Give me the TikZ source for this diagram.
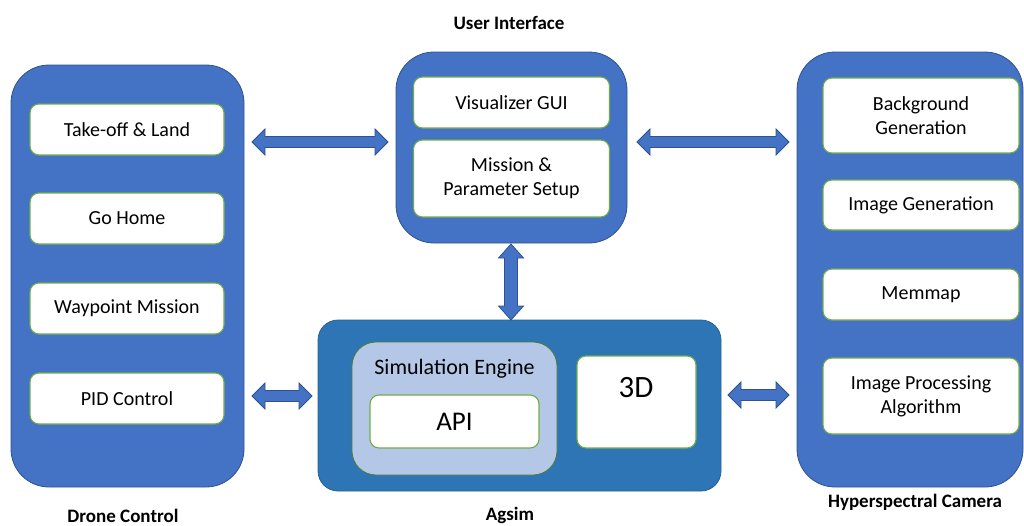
\documentclass[tikz,border=0pt]{standalone}
\usepackage{fontspec}
\setmainfont{Carlito}
\usetikzlibrary{calc}
\definecolor{pblue}{HTML}{4472C4}
\definecolor{pedge}{HTML}{2F528F}
\definecolor{ablue}{HTML}{2E75B6}
\definecolor{aedge}{HTML}{2A5F94}
\definecolor{gedge}{HTML}{70AD47}
\definecolor{lblue}{HTML}{B4C7E7}
\tikzset{
  panel/.style={draw=pedge, fill=pblue, line width=0.8pt, rounded corners=38pt, inner sep=0pt},
  agpanel/.style={draw=aedge, fill=ablue, line width=0.8pt, rounded corners=20pt, inner sep=0pt},
  item/.style={draw=gedge, fill=white, line width=1.1pt, rounded corners=9pt, align=center,
    font=\fontsize{20}{24}\selectfont, inner sep=0pt},
  engine/.style={draw=gedge!70!black, fill=lblue, line width=0.8pt, rounded corners=24pt, inner sep=0pt},
  title/.style={font=\fontsize{19}{23}\selectfont\bfseries, inner sep=0pt},
  blockarrow/.style={draw=pedge, fill=pblue, line width=0.8pt},
}
\newcommand{\harr}[2]{\filldraw[blockarrow] let \p1=(#1), \p2=(#2) in
  (\x1,\y1) -- (\x1+13pt,\y1+13pt) -- (\x1+13pt,\y1+5.5pt) -- (\x2-13pt,\y1+5.5pt)
  -- (\x2-13pt,\y1+13pt) -- (\x2,\y1) -- (\x2-13pt,\y1-13pt) -- (\x2-13pt,\y1-5.5pt)
  -- (\x1+13pt,\y1-5.5pt) -- (\x1+13pt,\y1-13pt) -- cycle;}
\newcommand{\varr}[2]{\filldraw[blockarrow] let \p1=(#1), \p2=(#2) in
  (\x1,\y1) -- (\x1+12.5pt,\y1-14pt) -- (\x1+6.5pt,\y1-14pt) -- (\x1+6.5pt,\y2+14pt)
  -- (\x1+12.5pt,\y2+14pt) -- (\x1,\y2) -- (\x1-12.5pt,\y2+14pt) -- (\x1-6.5pt,\y2+14pt)
  -- (\x1-6.5pt,\y1-14pt) -- (\x1-12.5pt,\y1-14pt) -- cycle;}
\begin{document}
\begin{tikzpicture}[x=1pt,y=-1pt]
\useasboundingbox (0,0) rectangle (1024,525);
% panels
\node[panel, minimum width=233, minimum height=422] (dc) at (127.5,276) {};
\node[panel, minimum width=231, minimum height=191] (ui) at (511.5,147.5) {};
\node[panel, minimum width=226, minimum height=435] (hc) at (910,269.5) {};
\node[agpanel, minimum width=403, minimum height=171] (ag) at (519.5,405.5) {};
% titles
\node[title] (tdc) at (123,515.5) {Drone Control};
\node[title] (tui) at (509,23) {User Interface};
\node[title] (tag) at (510,515.5) {Agsim};
\node[title] (thc) at (915,502) {Hyperspectral Camera};
% drone control items
\node[item, minimum width=194, minimum height=51] (tk) at (127,129.5) {Take-off \& Land};
\node[item, minimum width=194, minimum height=51] (gh) at (127,218.5) {Go Home};
\node[item, minimum width=194, minimum height=51] (wp) at (127,308.5) {Waypoint Mission};
\node[item, minimum width=194, minimum height=51] (pid) at (127,398.5) {PID Control};
% user interface items
\node[item, minimum width=196, minimum height=51] (vg) at (511.5,102.5) {Visualizer GUI};
\node[item, minimum width=196, minimum height=77] (ms) at (511.5,178.5) {Mission \&\\Parameter Setup};
% hyperspectral items
\node[item, minimum width=196, minimum height=75] (bg) at (921,115.5) {Background\\Generation};
\node[item, minimum width=196, minimum height=50] (ig) at (921,205) {Image Generation};
\node[item, minimum width=196, minimum height=51] (mm) at (921,294.5) {Memmap};
\node[item, minimum width=196, minimum height=76] (ip) at (921,396) {Image Processing\\Algorithm};
% agsim content
\node[engine, minimum width=205, minimum height=133] (se) at (454.5,408.5) {};
\node[font=\fontsize{22}{26}\selectfont, inner sep=0pt] (sel) at (454.5,369) {Simulation Engine};
\node[item, minimum width=169, minimum height=53, font=\fontsize{27}{32}\selectfont] (api) at (454.5,421.5) {API};
\node[item, minimum width=119, minimum height=92] (td) at (636.5,402) {};
\node[font=\fontsize{31}{36}\selectfont, inner sep=0pt] (tdl) at (636,388) {3D};
% arrow ends
\coordinate (a1l) at (252,142); \coordinate (a1r) at (388,142);
\coordinate (a2l) at (637,142); \coordinate (a2r) at (789,142);
\coordinate (a3t) at (511,244); \coordinate (a3b) at (511,320);
\coordinate (a4l) at (252,396); \coordinate (a4r) at (312,396);
\coordinate (a5l) at (728,395); \coordinate (a5r) at (789,395);
\harr{a1l}{a1r}
\harr{a2l}{a2r}
\varr{a3t}{a3b}
\harr{a4l}{a4r}
\harr{a5l}{a5r}
\end{tikzpicture}
\end{document}
